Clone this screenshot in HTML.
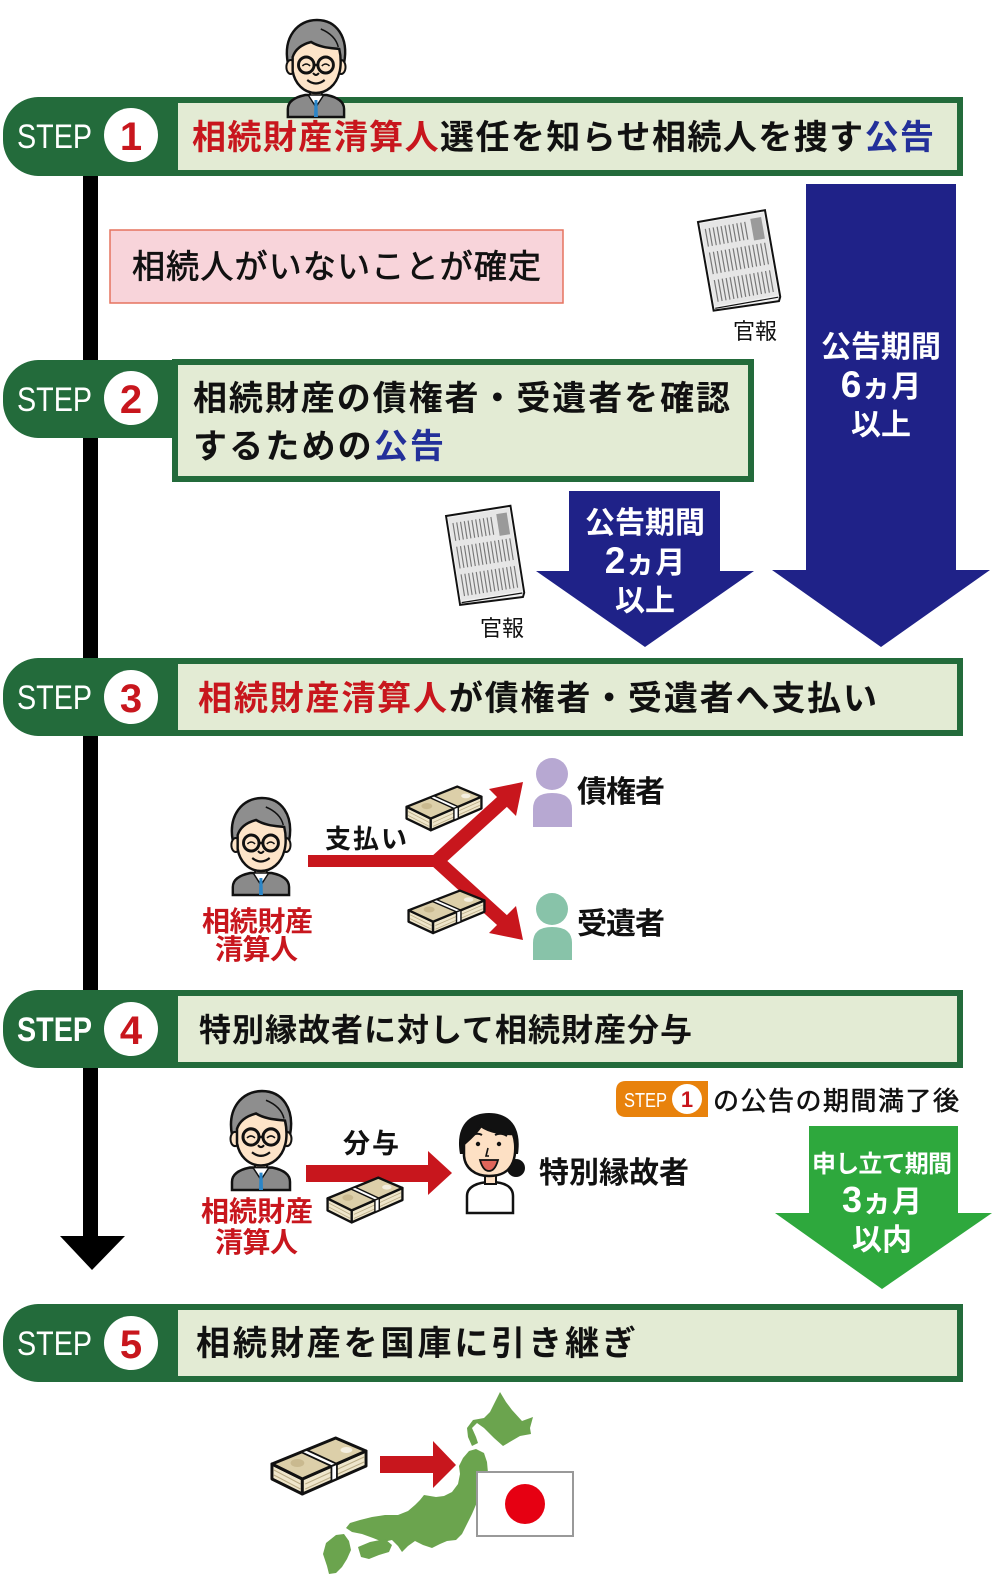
<!DOCTYPE html>
<html><head><meta charset="utf-8"><style>
html,body{margin:0;padding:0;background:#fff;}
svg{display:block;}
.jp{font-family:"Liberation Sans","Noto Sans CJK JP",sans-serif;}
.b{font-weight:700;}
</style></head><body>
<svg width="1000" height="1595" viewBox="0 0 1000 1595" xmlns="http://www.w3.org/2000/svg">
<defs>
<g id="man">
  <path d="M6 100 L6 92 C6 84 14 80 24 78 L46 78 C56 80 64 84 64 92 L64 100 Z" fill="#8a8a8a" stroke="#111" stroke-width="2.5"/>
  <rect x="29" y="68" width="12" height="12" fill="#fde4c8" stroke="#111" stroke-width="2"/>
  <path d="M27 78 L35 90 L43 78 Z" fill="#fff" stroke="#111" stroke-width="1.5"/>
  <path d="M33.5 83 L36.5 83 L37 100 L33 100 Z" fill="#2b86c8"/>
  <path d="M6 46 C1 20 16 3 36 3 C56 3 69 20 64 46 Z" fill="#8e8e8e" stroke="#111" stroke-width="2.5"/>
  <ellipse cx="9" cy="50" rx="4.5" ry="7" fill="#fde4c8" stroke="#111" stroke-width="2"/>
  <ellipse cx="61" cy="50" rx="4.5" ry="7" fill="#fde4c8" stroke="#111" stroke-width="2"/>
  <path d="M11 40 C14 31 22 27 30 25 C40 31 52 31 59 32 C61 40 61 50 59 56 C56 68 46 76 35 76 C22 76 13 66 11 54 Z" fill="#fde4c8" stroke="#111" stroke-width="2.5"/>
  <path d="M40 12 C50 16 56 22 58 30" fill="none" stroke="#111" stroke-width="1.5"/>
  <circle cx="25" cy="48" r="8" fill="none" stroke="#111" stroke-width="3"/>
  <circle cx="45" cy="48" r="8" fill="none" stroke="#111" stroke-width="3"/>
  <line x1="33" y1="48" x2="37" y2="48" stroke="#111" stroke-width="2.5"/>
  <path d="M21 49 Q25 45 29 49 M41 49 Q45 45 49 49" fill="none" stroke="#111" stroke-width="1.5"/>
  <path d="M32 56 Q35 60 38 56" fill="none" stroke="#111" stroke-width="2"/>
  <path d="M26 63 Q35 70 44 63" fill="none" stroke="#111" stroke-width="2.2"/>
</g>
<g id="money">
  <polygon points="2,28 33,43 33,58 2,43" fill="#efe6cb" stroke="#111" stroke-width="3" stroke-linejoin="round"/>
  <polygon points="33,43 98,15 98,30 33,58" fill="#efe6cb" stroke="#111" stroke-width="3" stroke-linejoin="round"/>
  <polygon points="2,28 67,2 98,15 33,43" fill="#dccfa9" stroke="#111" stroke-width="3" stroke-linejoin="round"/>
  <ellipse cx="28" cy="27" rx="7" ry="4" fill="#c9b98f"/>
  <ellipse cx="78" cy="14" rx="6" ry="3" fill="#f4efe0"/>
  <line x1="4" y1="34" x2="31" y2="48" stroke="#b9ab85" stroke-width="1"/>
  <line x1="4" y1="39" x2="31" y2="53" stroke="#b9ab85" stroke-width="1"/>
  <line x1="36" y1="48" x2="96" y2="21" stroke="#b9ab85" stroke-width="1"/>
  <line x1="36" y1="53" x2="96" y2="26" stroke="#b9ab85" stroke-width="1"/>
  <polygon points="31.7,16.1 37.3,13.9 68.3,27.9 62.7,30.1" fill="#fff" stroke="#111" stroke-width="1.8"/>
  <polygon points="62.7,30.1 68.3,27.9 68.3,42.9 62.7,45.1" fill="#fff" stroke="#111" stroke-width="1.8"/>
</g>
<g id="paper">
  <path d="M0 0 L68 0 L68 88 L66 92 L0 90 Z" fill="#f2f2f2" stroke="#111" stroke-width="2"/>
  <path d="M2 88 L66 88" stroke="#111" stroke-width="1.2"/>
  <rect x="2" y="2" width="64" height="84" fill="#e6e6e6"/>
  <g stroke="#777" stroke-width="1.2">
    <path d="M6 8V26M10 8V26M14 8V26M18 8V26M22 8V26M26 8V26M30 8V26M34 8V26M38 8V26M42 8V26M46 8V26"/>
    <path d="M6 32V54M10 32V54M14 32V54M18 32V54M22 32V54M26 32V54M30 32V54M34 32V54M38 32V54M42 32V54M46 32V54M50 32V54M54 32V54M58 32V54M62 32V54"/>
    <path d="M6 60V82M10 60V82M14 60V82M18 60V82M22 60V82M26 60V82M30 60V82M34 60V82M38 60V82M42 60V82M46 60V82M50 60V82M54 60V82M58 60V82M62 60V82"/>
  </g>
  <rect x="52" y="6" width="11" height="22" fill="#9a9a9a"/>
</g>
</defs>

<!-- vertical timeline -->
<rect x="83" y="170" width="15" height="1070" fill="#000"/>
<polygon points="60,1236 125,1236 92,1270" fill="#000"/>

<!-- STEP 1 -->
<rect x="172" y="97" width="791" height="79" fill="#236b3b"/>
<rect x="178" y="103" width="779" height="67" fill="#e3ebd4"/>
<path d="M178 97 L38 97 A36 36 0 0 0 3 133 L3 140 A36 36 0 0 0 38 176 L178 176 Z" fill="#236b3b"/>
<text x="17" y="148" font-family="Liberation Sans" font-size="34" fill="#fff" textLength="75" lengthAdjust="spacingAndGlyphs">STEP</text>
<circle cx="131" cy="135" r="27" fill="#fff"/>
<text x="131" y="150" font-family="Liberation Sans" font-weight="700" font-size="40" fill="#c8161d" text-anchor="middle">1</text>
<text class="jp b" x="192" y="149" font-size="34" textLength="742" lengthAdjust="spacing" fill="#111"><tspan fill="#c8161d">相続財産清算人</tspan>選任を知らせ相続人を捜す<tspan fill="#23309a">公告</tspan></text>
<use href="#man" transform="translate(282,17) scale(0.97,1)"/>

<!-- pink box -->
<rect x="110" y="230" width="453" height="73" fill="#f8d4da" stroke="#e5735f" stroke-width="1.5"/>
<text class="jp" x="132" y="278" font-size="33" textLength="409" lengthAdjust="spacing" fill="#111" stroke="#111" stroke-width="0.7">相続人がいないことが確定</text>

<!-- newspaper 1 -->
<use href="#paper" transform="translate(698,222) rotate(-10)"/>
<text class="jp" x="755" y="339" font-size="22" text-anchor="middle" fill="#111">官報</text>

<!-- 6 month arrow -->
<polygon points="806,184 956,184 956,570 990,570 881,647 772,570 806,570" fill="#1f2288"/>
<text class="jp b" x="881" y="357" font-size="30" text-anchor="middle" fill="#fff">公告期間</text>
<text class="jp b" x="881" y="397" font-size="30" text-anchor="middle" fill="#fff"><tspan font-size="37">6</tspan>ヵ月</text>
<text class="jp b" x="881" y="435" font-size="30" text-anchor="middle" fill="#fff">以上</text>

<!-- STEP 2 -->
<rect x="172" y="359" width="582" height="123" fill="#236b3b"/>
<rect x="178" y="365" width="570" height="111" fill="#e3ebd4"/>
<path d="M178 360 L38 360 A36 36 0 0 0 3 396 L3 402 A36 36 0 0 0 38 438 L178 438 Z" fill="#236b3b"/>
<text x="17" y="411" font-family="Liberation Sans" font-size="34" fill="#fff" textLength="75" lengthAdjust="spacingAndGlyphs">STEP</text>
<circle cx="131" cy="398" r="27" fill="#fff"/>
<text x="131" y="413" font-family="Liberation Sans" font-weight="700" font-size="40" fill="#c8161d" text-anchor="middle">2</text>
<text class="jp b" x="193" y="410" font-size="34" textLength="537" lengthAdjust="spacing" fill="#111">相続財産の債権者・受遺者を確認</text>
<text class="jp b" x="193" y="458" font-size="34" textLength="251" lengthAdjust="spacing" fill="#111">するための<tspan fill="#23309a">公告</tspan></text>

<!-- newspaper 2 -->
<use href="#paper" transform="translate(446,516) rotate(-9) scale(0.96,1)"/>
<text class="jp" x="502" y="636" font-size="22" text-anchor="middle" fill="#111">官報</text>

<!-- 2 month arrow -->
<polygon points="569,491 720,491 720,571 754,571 645,647 536,571 569,571" fill="#1f2288"/>
<text class="jp b" x="645" y="533" font-size="30" text-anchor="middle" fill="#fff">公告期間</text>
<text class="jp b" x="645" y="573" font-size="30" text-anchor="middle" fill="#fff"><tspan font-size="37">2</tspan>ヵ月</text>
<text class="jp b" x="645" y="611" font-size="30" text-anchor="middle" fill="#fff">以上</text>

<!-- STEP 3 -->
<rect x="172" y="658" width="791" height="78" fill="#236b3b"/>
<rect x="178" y="664" width="779" height="66" fill="#e3ebd4"/>
<path d="M178 658 L38 658 A36 36 0 0 0 3 694 L3 700 A36 36 0 0 0 38 736 L178 736 Z" fill="#236b3b"/>
<text x="17" y="709" font-family="Liberation Sans" font-size="34" fill="#fff" textLength="75" lengthAdjust="spacingAndGlyphs">STEP</text>
<circle cx="131" cy="697" r="27" fill="#fff"/>
<text x="131" y="712" font-family="Liberation Sans" font-weight="700" font-size="40" fill="#c8161d" text-anchor="middle">3</text>
<text class="jp b" x="198" y="710" font-size="34" textLength="679" lengthAdjust="spacing" fill="#111"><tspan fill="#c8161d">相続財産清算人</tspan>が債権者・受遺者へ支払い</text>

<!-- STEP 3 illustration -->
<use href="#man" transform="translate(227,795) scale(0.97,1)"/>
<text class="jp b" x="202" y="931" font-size="28" textLength="111" lengthAdjust="spacing" fill="#c8161d">相続財産</text>
<text class="jp b" x="215" y="959" font-size="28" textLength="83" lengthAdjust="spacing" fill="#c8161d">清算人</text>
<path d="M308 861 L443 861" stroke="#c8161d" stroke-width="12" fill="none"/>
<path d="M437 861 L503 801 M437 861 L503 921" stroke="#c8161d" stroke-width="14" fill="none" stroke-linecap="butt"/>
<polygon points="523,782 489,789 516,816" fill="#c8161d"/>
<polygon points="523,940 489,933 516,906" fill="#c8161d"/>
<text class="jp b" x="325" y="848" font-size="26" textLength="82" lengthAdjust="spacing" fill="#111">支払い</text>
<use href="#money" transform="translate(405,785) scale(0.78,0.78)"/>
<use href="#money" transform="translate(407,889) scale(0.79,0.76)"/>
<circle cx="552" cy="774" r="16" fill="#b7a8d2"/>
<path d="M533 827 L533 809 Q533 793 552 793 Q572 793 572 809 L572 827 Z" fill="#b7a8d2"/>
<circle cx="552" cy="909" r="16" fill="#88c3a9"/>
<path d="M533 960 L533 943 Q533 927 552 927 Q572 927 572 943 L572 960 Z" fill="#88c3a9"/>
<text class="jp b" x="577" y="802" font-size="30" textLength="88" lengthAdjust="spacing" fill="#111">債権者</text>
<text class="jp b" x="577" y="934" font-size="30" textLength="88" lengthAdjust="spacing" fill="#111">受遺者</text>

<!-- STEP 4 -->
<rect x="172" y="990" width="791" height="78" fill="#236b3b"/>
<rect x="178" y="996" width="779" height="66" fill="#e3ebd4"/>
<path d="M178 990 L38 990 A36 36 0 0 0 3 1026 L3 1032 A36 36 0 0 0 38 1068 L178 1068 Z" fill="#236b3b"/>
<text x="17" y="1041" font-family="Liberation Sans" font-weight="700" font-size="34" fill="#fff" textLength="75" lengthAdjust="spacingAndGlyphs">STEP</text>
<circle cx="131" cy="1029" r="27" fill="#fff"/>
<text x="131" y="1044" font-family="Liberation Sans" font-weight="700" font-size="40" fill="#c8161d" text-anchor="middle">4</text>
<text class="jp b" x="199" y="1041" font-size="32" textLength="493" lengthAdjust="spacing" fill="#111">特別縁故者に対して相続財産分与</text>

<!-- badge -->
<path d="M626 1081 L708 1081 L708 1117 L626 1117 Q616 1117 616 1107 L616 1091 Q616 1081 626 1081 Z" fill="#e8820c"/>
<text x="624" y="1107" font-family="Liberation Sans" font-size="20" fill="#fff" textLength="43" lengthAdjust="spacingAndGlyphs">STEP</text>
<circle cx="687" cy="1099" r="15" fill="#fff"/>
<text x="687" y="1107" font-family="Liberation Sans" font-weight="700" font-size="22" fill="#c8161d" text-anchor="middle">1</text>
<text class="jp" x="713" y="1110" font-size="26" textLength="246" lengthAdjust="spacing" fill="#111" stroke="#111" stroke-width="0.6">の公告の期間満了後</text>

<!-- green arrow -->
<polygon points="809,1126 958,1126 958,1213 992,1213 882,1289 775,1213 809,1213" fill="#2ea83d"/>
<text class="jp b" x="882" y="1172" font-size="24" text-anchor="middle" textLength="140" lengthAdjust="spacing" fill="#fff">申し立て期間</text>
<text class="jp b" x="882" y="1212" font-size="30" text-anchor="middle" fill="#fff"><tspan font-size="36">3</tspan>ヵ月</text>
<text class="jp b" x="882" y="1250" font-size="30" text-anchor="middle" fill="#fff">以内</text>

<!-- STEP 4 illustration -->
<use href="#man" transform="translate(226,1088) scale(1,1.02)"/>
<text class="jp b" x="201" y="1221" font-size="28" textLength="112" lengthAdjust="spacing" fill="#c8161d">相続財産</text>
<text class="jp b" x="215" y="1252" font-size="28" textLength="83" lengthAdjust="spacing" fill="#c8161d">清算人</text>
<text class="jp b" x="343" y="1153" font-size="27" textLength="56" lengthAdjust="spacing" fill="#111">分与</text>
<rect x="306" y="1165" width="124" height="17" fill="#c8161d"/>
<polygon points="428,1151 452,1173 428,1195" fill="#c8161d"/>
<use href="#money" transform="translate(326,1176) scale(0.78,0.8)"/>
<!-- woman -->
<g transform="translate(455,1110)">
  <path d="M12 103 L12 86 C12 77 22 72 36 72 C50 72 58 77 58 86 L58 103 Z" fill="#fff" stroke="#111" stroke-width="2.5"/>
  <rect x="30" y="62" width="11" height="12" fill="#fde0c4" stroke="#111" stroke-width="2"/>
  <circle cx="61" cy="58" r="9" fill="#111"/>
  <path d="M5 44 C0 16 14 3 34 3 C54 3 67 16 63 44 Z" fill="#111"/>
  <path d="M9 34 C16 28 22 22 26 16 C34 22 48 24 58 24 C61 32 61 44 58 52 C54 62 46 66 34 66 C20 66 10 58 9 46 Z" fill="#fde0c4" stroke="#111" stroke-width="2.5"/>
  <path d="M16 26 Q22 22 27 25 M40 25 Q46 22 52 26" fill="none" stroke="#111" stroke-width="2"/>
  <circle cx="23" cy="34" r="2.2" fill="#111"/>
  <circle cx="44" cy="34" r="2.2" fill="#111"/>
  <path d="M33 38 L31 46 L34 46" fill="none" stroke="#111" stroke-width="1.6"/>
  <path d="M25 50 Q34 50 43 50 Q40 61 34 61 Q28 61 25 50 Z" fill="#e0655a" stroke="#111" stroke-width="1.8"/>
</g>
<text class="jp b" x="539" y="1183" font-size="30" textLength="150" lengthAdjust="spacing" fill="#111">特別縁故者</text>

<!-- STEP 5 -->
<rect x="172" y="1304" width="791" height="78" fill="#236b3b"/>
<rect x="178" y="1310" width="779" height="66" fill="#e3ebd4"/>
<path d="M178 1304 L38 1304 A36 36 0 0 0 3 1340 L3 1346 A36 36 0 0 0 38 1382 L178 1382 Z" fill="#236b3b"/>
<text x="17" y="1355" font-family="Liberation Sans" font-size="34" fill="#fff" textLength="75" lengthAdjust="spacingAndGlyphs">STEP</text>
<circle cx="131" cy="1343" r="27" fill="#fff"/>
<text x="131" y="1358" font-family="Liberation Sans" font-weight="700" font-size="40" fill="#c8161d" text-anchor="middle">5</text>
<text class="jp b" x="196" y="1355" font-size="34" textLength="440" lengthAdjust="spacing" fill="#111">相続財産を国庫に引き継ぎ</text>

<!-- STEP 5 illustration -->
<use href="#money" transform="translate(270,1436) scale(0.98,1.0)"/>
<rect x="380" y="1456" width="55" height="17" fill="#c8161d"/>
<polygon points="433,1441 456,1465 433,1488" fill="#c8161d"/>
<g fill="#6ba44e">
  <path d="M500 1392 L506 1402 L512 1410 L522 1421 L533 1417 L530 1428 L531 1434 L520 1436 L503 1446 L494 1438 L484 1428 L477 1423 L472 1428 L476 1437 L478 1443 L472 1446 L468 1437 L467 1428 L473 1420 L484 1418 L490 1412 L496 1400 Z"/>
  <path d="M476 1449 L484 1453 L487 1462 L488 1473 L484 1485 L478 1500 L472 1514 L466 1526 L462 1534 L456 1540 L447 1541 L440 1544 L432 1548 L423 1545 L415 1541 L408 1546 L402 1552 L398 1546 L392 1540 L383 1542 L373 1538 L362 1534 L352 1532 L346 1528 L350 1523 L360 1520 L372 1517 L385 1515 L398 1515 L408 1511 L415 1505 L420 1500 L424 1495 L430 1496 L436 1497 L444 1496 L452 1492 L458 1484 L460 1474 L459 1466 L463 1458 L469 1451 Z"/>
  <path d="M358 1547 L370 1542 L385 1539 L392 1545 L389 1552 L379 1555 L369 1559 L361 1557 Z"/>
  <path d="M326 1543 L336 1535 L344 1534 L349 1541 L351 1550 L347 1559 L342 1567 L336 1573 L329 1574 L327 1566 L323 1554 Z"/>
</g>
<rect x="477" y="1472" width="96" height="64" fill="#fff" stroke="#999" stroke-width="2"/>
<circle cx="525" cy="1504" r="20" fill="#e60012"/>
</svg>
</body></html>
